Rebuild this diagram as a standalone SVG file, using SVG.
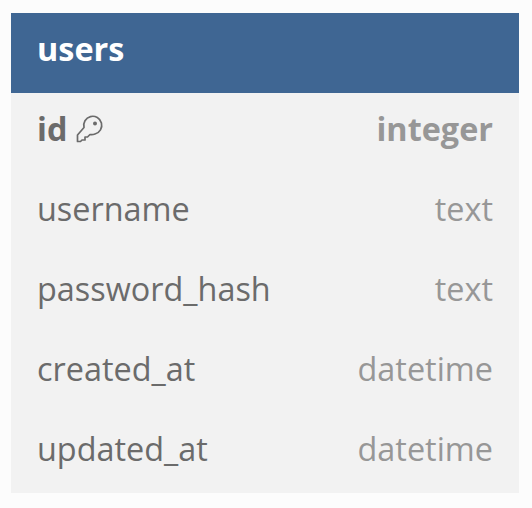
<svg xmlns="http://www.w3.org/2000/svg" width="532" height="508" viewBox="0 0 532 508">
<style>
text{font-family:"Open Sans","Noto Sans",sans-serif;font-size:32.400px}
.n{fill:#6b6b6b}
.t{fill:#979797;text-anchor:end}
.b{font-weight:700}
</style>
<rect width="532" height="508" fill="#fcfcfc"/>
<g id="users">
<rect x="11" y="93" width="508" height="400" fill="#f2f2f2"/>
<rect x="11" y="13" width="508" height="80" fill="#3f6693"/>
<text x="37" y="61" fill="#fff" class="b">users</text>
</g>
<g id="row-id">
<text x="37" y="141" class="n b">id</text>
<path d="M77.500 141.500 L77.500 135 L84 127.500 A9 9 0 1 1 95 134 A10 10 0 0 1 90 134.500 L87.500 137 L85 137 L85 140 L82 140 L80.500 141.500 Z" fill="none" stroke="#6b6b6b" stroke-width="1.700" stroke-linejoin="round"/>
<circle cx="95" cy="123.500" r="2" fill="#6b6b6b"/>
<text x="493" y="141" class="t b">integer</text>
</g>
<g id="row-username">
<text x="37" y="221" class="n">username</text>
<text x="493" y="221" class="t">text</text>
</g>
<g id="row-password_hash">
<text x="37" y="301" class="n">password_hash</text>
<text x="493" y="301" class="t">text</text>
</g>
<g id="row-created_at">
<text x="37" y="381" class="n">created_at</text>
<text x="493" y="381" class="t">datetime</text>
</g>
<g id="row-updated_at">
<text x="37" y="461" class="n">updated_at</text>
<text x="493" y="461" class="t">datetime</text>
</g>
<g id="connectors"/>
</svg>
